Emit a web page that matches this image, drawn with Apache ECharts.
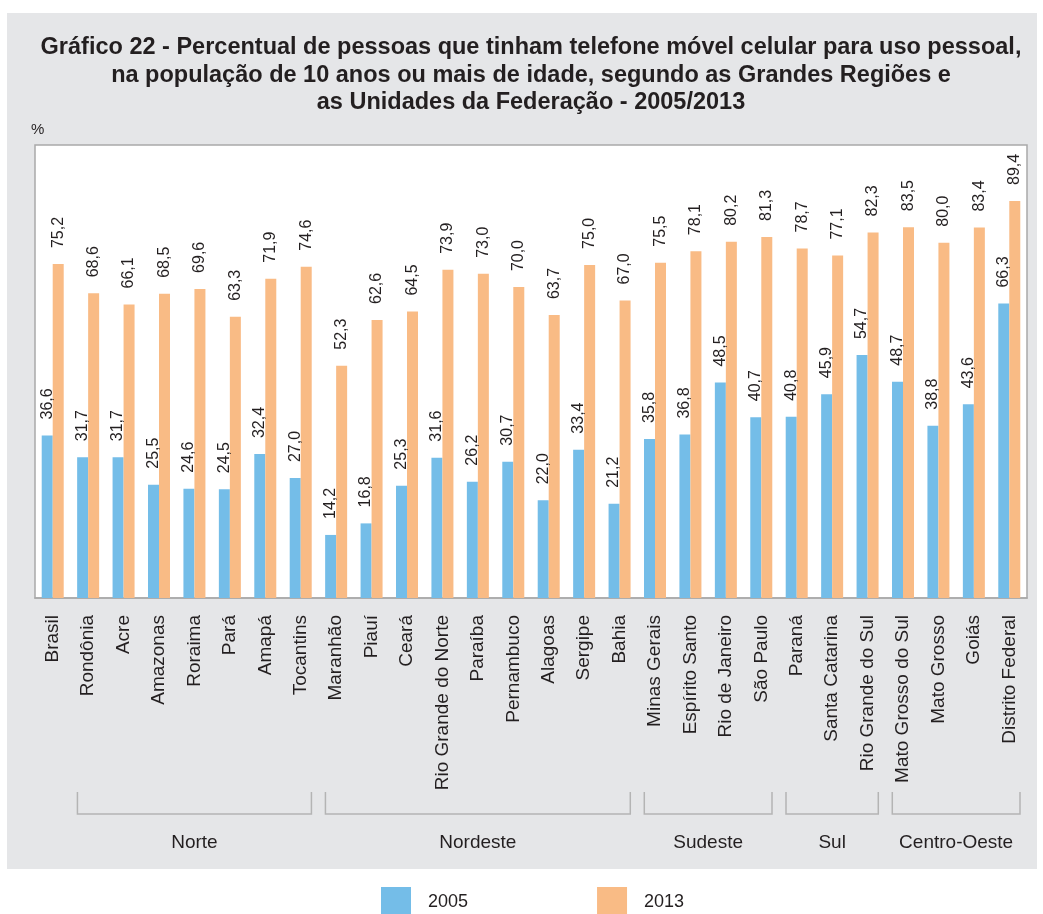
<!DOCTYPE html>
<html>
<head>
<meta charset="utf-8">
<title>Gráfico 22</title>
<script src="https://cdn.jsdelivr.net/npm/echarts@6/dist/echarts.min.js"></script>
<style>
  html, body { margin: 0; padding: 0; background: #fff; }
  #chart { width: 1043px; height: 914px; }
</style>
</head>
<body>
<div id="chart"></div>
<script>
// data
const states = ['Brasil', 'Rondônia', 'Acre', 'Amazonas', 'Roraima', 'Pará', 'Amapá', 'Tocantins',
  'Maranhão', 'Piauí', 'Ceará', 'Rio Grande do Norte', 'Paraíba', 'Pernambuco', 'Alagoas', 'Sergipe', 'Bahia',
  'Minas Gerais', 'Espírito Santo', 'Rio de Janeiro', 'São Paulo',
  'Paraná', 'Santa Catarina', 'Rio Grande do Sul',
  'Mato Grosso do Sul', 'Mato Grosso', 'Goiás', 'Distrito Federal'];
const values2005 = [36.6, 31.7, 31.7, 25.5, 24.6, 24.5, 32.4, 27.0,
  14.2, 16.8, 25.3, 31.6, 26.2, 30.7, 22.0, 33.4, 21.2,
  35.8, 36.8, 48.5, 40.7,
  40.8, 45.9, 54.7,
  48.7, 38.8, 43.6, 66.3];
const values2013 = [75.2, 68.6, 66.1, 68.5, 69.6, 63.3, 71.9, 74.6,
  52.3, 62.6, 64.5, 73.9, 73.0, 70.0, 63.7, 75.0, 67.0,
  75.5, 78.1, 80.2, 81.3,
  78.7, 77.1, 82.3,
  83.5, 80.0, 83.4, 89.4];
// regions: name, first index, last index
const regions = [
  ['Norte', 1, 7],
  ['Nordeste', 8, 16],
  ['Sudeste', 17, 20],
  ['Sul', 21, 23],
  ['Centro-Oeste', 24, 27]
];

const FONT = '"Liberation Sans", Arial, Helvetica, sans-serif';
const TXT = '#231f20';
const BLUE = '#74bde8';
const ORANGE = '#f9bb85';

const chart = echarts.init(document.getElementById('chart'));

function fmt(p) {
  return p.value.toFixed(1).replace('.', ',');
}

function barLabel() {
  return {
    show: true,
    position: 'top',
    rotate: 90,
    align: 'left',
    verticalAlign: 'middle',
    distance: 16,
    fontFamily: FONT,
    fontSize: 16,
    color: TXT,
    formatter: fmt
  };
}

const bgRect = {
  type: 'rect', z: -100, silent: true,
  shape: { x: 7, y: 13, width: 1030, height: 856 },
  style: { fill: '#e5e6e8' }
};

chart.setOption({
  animation: false,
  textStyle: { fontFamily: FONT },
  title: {
    text: 'Gráfico 22 - Percentual de pessoas que tinham telefone móvel celular para uso pessoal,\n' +
      'na população de 10 anos ou mais de idade, segundo as Grandes Regiões e\n' +
      'as Unidades da Federação - 2005/2013',
    left: 526, top: 29, textAlign: 'center',
    textStyle: { fontFamily: FONT, fontSize: 23.5, fontWeight: 'bold', color: TXT, lineHeight: 27.5 }
  },
  legend: {
    data: ['2005', '2013'],
    left: 381, top: 887, padding: 0,
    itemWidth: 30, itemHeight: 30, itemGap: 129,
    icon: 'rect',
    textStyle: { fontFamily: FONT, fontSize: 18, color: TXT, padding: [0, 0, 0, 12] }
  },
  grid: {
    left: 35, right: 16, top: 145, bottom: 316,
    show: true, backgroundColor: '#fff', borderColor: '#a9a9a9', borderWidth: 1.5
  },
  xAxis: {
    type: 'category',
    data: states,
    axisLine: { lineStyle: { color: '#a9a9a9', width: 1.5 } },
    axisTick: { show: false },
    axisLabel: { rotate: 90, margin: 17, fontFamily: FONT, fontSize: 19, color: TXT, interval: 0 }
  },
  yAxis: {
    type: 'value', min: 0, max: 102,
    name: '%', nameLocation: 'end', nameGap: 8,
    nameTextStyle: { fontFamily: FONT, fontSize: 15, color: TXT, align: 'left', padding: [0, 0, 0, -4] },
    axisLine: { show: false }, axisTick: { show: false },
    axisLabel: { show: false }, splitLine: { show: false }
  },
  series: [
    { name: '2005', type: 'bar', data: values2005, barWidth: 11, barGap: '0%',
      itemStyle: { color: BLUE }, label: barLabel() },
    { name: '2013', type: 'bar', data: values2013, barWidth: 11,
      itemStyle: { color: ORANGE }, label: barLabel() }
  ],
  graphic: [bgRect]
});

// region brackets under the category labels, placed from the axis scale
const x0 = chart.convertToPixel({ xAxisIndex: 0 }, 0);
const band = chart.convertToPixel({ xAxisIndex: 0 }, 1) - x0;
const extra = [bgRect];
regions.forEach(function (r) {
  const left = x0 + band * (r[1] - 0.5) + 7;
  const right = x0 + band * (r[2] + 0.5) - 7;
  extra.push({
    type: 'polyline', silent: true,
    shape: { points: [[left, 792], [left, 814], [right, 814], [right, 792]] },
    style: { stroke: '#b4b4b4', lineWidth: 1.5, fill: null }
  });
  extra.push({
    type: 'text', silent: true,
    x: (left + right) / 2, y: 843,
    style: { text: r[0], fontFamily: FONT, fontSize: 19, fill: TXT, align: 'center', verticalAlign: 'middle' }
  });
});
chart.setOption({ graphic: extra }, { replaceMerge: ['graphic'] });
</script>
</body>
</html>
